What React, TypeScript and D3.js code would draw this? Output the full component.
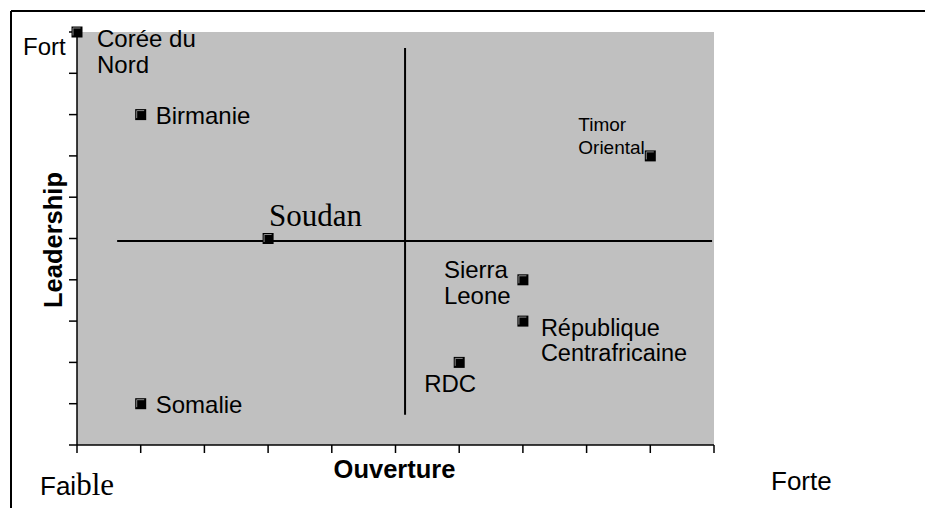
import React from "react";
import * as d3 from "d3";

const countries = ["Corée du Nord", "Birmanie", "Timor Oriental", "Soudan", "Sierra Leone", "République Centrafricaine", "RDC", "Somalie"];
const ouverture = [0, 1, 9, 3, 7, 7, 6, 1];
const leadership = [10, 8, 7, 5, 4, 3, 2, 1];
const xTicks = [0, 1, 2, 3, 4, 5, 6, 7, 8, 9, 10];
const yTicks = [0, 1, 2, 3, 4, 5, 6, 7, 8, 9, 10];
const crossH = [0.63, 9.97, 4.94]; // x1, x2, y
const crossV = [5.15, 0.73, 9.61]; // x, y1, y2

const W = 925, H = 508;
const L = 77, R = 714, T = 32, B = 445;

const x = d3.scaleLinear().domain([0, 10]).range([L, R]);
const y = d3.scaleLinear().domain([0, 10]).range([B, T]);

const SANS = "'Liberation Sans', Arial, sans-serif";
const SERIF = "'Liberation Serif', 'Times New Roman', serif";

type LabelStyle = { lines: string[]; dx: number; dy: number; size: number; lh: number; font: string };
const labelLayout: Record<string, LabelStyle> = {
  "Corée du Nord": { lines: ["Corée du", "Nord"], dx: 20, dy: 15, size: 24, lh: 26, font: SANS },
  "Birmanie": { lines: ["Birmanie"], dx: 15, dy: 9, size: 24, lh: 26, font: SANS },
  "Timor Oriental": { lines: ["Timor", "Oriental"], dx: -72, dy: -25, size: 19, lh: 23, font: SANS },
  "Soudan": { lines: ["Soudan"], dx: 1, dy: -13, size: 31, lh: 30, font: SERIF },
  "Sierra Leone": { lines: ["Sierra", "Leone"], dx: -79, dy: -2, size: 24, lh: 26, font: SANS },
  "République Centrafricaine": { lines: ["République", "Centrafricaine"], dx: 18, dy: 14.5, size: 23.5, lh: 25.5, font: SANS },
  "RDC": { lines: ["RDC"], dx: -35, dy: 30, size: 24, lh: 26, font: SANS },
  "Somalie": { lines: ["Somalie"], dx: 15, dy: 9, size: 24, lh: 26, font: SANS },
};

export default function App() {
  const points = countries.map((c, i) => ({ name: c, px: x(ouverture[i]), py: y(leadership[i]) }));
  const m = 5.5;
  return (
    <svg width={W} height={H} style={{ position: "absolute", left: 0, top: 0, background: "#fff" }}>
      {/* outer frame */}
      <line x1={11} y1={11} x2={W} y2={11} stroke="#000" strokeWidth={2} />
      <line x1={11} y1={11} x2={11} y2={H} stroke="#000" strokeWidth={2} />
      {/* plot area */}
      <rect x={L} y={T} width={R - L} height={B - T} fill="#c0c0c0" />
      {/* cross lines */}
      <line x1={x(crossH[0])} x2={x(crossH[1])} y1={y(crossH[2])} y2={y(crossH[2])} stroke="#000" strokeWidth={2} />
      <line x1={x(crossV[0])} x2={x(crossV[0])} y1={y(crossV[1])} y2={y(crossV[2])} stroke="#000" strokeWidth={2} />
      {/* axes */}
      <line x1={L} x2={L} y1={T} y2={B} stroke="#000" strokeWidth={1.5} />
      <line x1={L} x2={R} y1={B} y2={B} stroke="#000" strokeWidth={1.5} />
      {xTicks.map((t) => (
        <line key={"xt" + t} x1={x(t)} x2={x(t)} y1={B} y2={B + 8} stroke="#000" strokeWidth={1.5} />
      ))}
      {yTicks.map((t) => (
        <line key={"yt" + t} x1={L - 8} x2={L} y1={y(t)} y2={y(t)} stroke="#000" strokeWidth={1.5} />
      ))}
      {/* markers */}
      {points.map((p) => (
        <g key={"m" + p.name}>
          <rect x={p.px - m} y={p.py - m} width={2 * m} height={2 * m} fill="#000" />
          <path d={`M${p.px - m + 1.5},${p.py + m - 2}V${p.py - m + 1.5}H${p.px + m - 2}`} stroke="#888" strokeWidth={1} fill="none" />
        </g>
      ))}
      {/* labels */}
      {points.map((p) => {
        const s = labelLayout[p.name];
        return (
          <text key={"l" + p.name} x={p.px + s.dx} y={p.py + s.dy} fontFamily={s.font} fontSize={s.size} fill="#000">
            {s.lines.map((ln, j) => (
              <tspan key={j} x={p.px + s.dx} dy={j === 0 ? 0 : s.lh}>{ln}</tspan>
            ))}
          </text>
        );
      })}
      {/* axis end labels */}
      <text x={23} y={55} fontFamily={SANS} fontSize={24}>Fort</text>
      <text x={40} y={495}>
        <tspan style={{ fontFamily: SANS, fontSize: "26px" }}>Fai</tspan>
        <tspan style={{ fontFamily: SERIF, fontSize: "31px" }}>ble</tspan>
      </text>
      <text x={771} y={490} fontFamily={SANS} fontSize={26}>Forte</text>
      {/* axis titles */}
      <text x={394.5} y={478} textAnchor="middle" fontFamily={SANS} fontWeight="bold" fontSize={25.5}>Ouverture</text>
      <text transform={`translate(62,240) rotate(-90)`} textAnchor="middle" fontFamily={SANS} fontWeight="bold" fontSize={25.5}>Leadership</text>
    </svg>
  );
}
